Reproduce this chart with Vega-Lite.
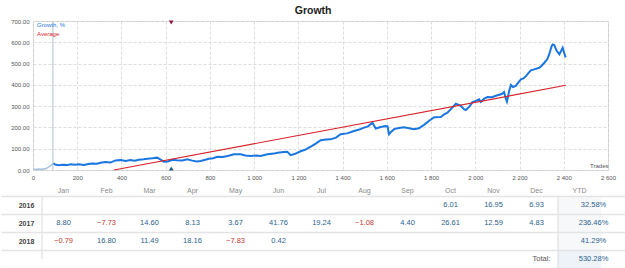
{
  "$schema": "https://vega.github.io/schema/vega-lite/v6.json",
  "background": "white",
  "padding": {"left": 0, "right": 0, "top": 6, "bottom": 0},
  "title": {"text": "Growth", "anchor": "middle", "fontSize": 10.5, "font": "Liberation Sans", "fontWeight": "bold", "color": "#222222", "offset": 1},
  "config": {
    "font": "Liberation Sans",
    "view": {"stroke": null},
    "locale": {"number": {"decimal": ".", "thousands": " ", "grouping": [3], "currency": ["", ""]}}
  },
  "spacing": 5,
  "datasets": {
    "pre": [{"t":0,"v":3},{"t":8,"v":4},{"t":16,"v":2},{"t":26,"v":5},{"t":36,"v":3},{"t":46,"v":6},{"t":56,"v":5},{"t":66,"v":11},{"t":76,"v":17},{"t":84,"v":24},{"t":91,"v":31}],
    "growth": [
      {"t":91,"v":31},{"t":100,"v":26},{"t":117,"v":22},{"t":135,"v":25},{"t":155,"v":23},{"t":170,"v":27},{"t":190,"v":25},{"t":207,"v":27},{"t":230,"v":24},{"t":250,"v":28},
      {"t":268,"v":31},{"t":290,"v":29},{"t":305,"v":34},{"t":328,"v":37},{"t":350,"v":35},{"t":373,"v":45},{"t":396,"v":47},{"t":419,"v":42},{"t":440,"v":47},{"t":460,"v":44},
      {"t":479,"v":48},{"t":500,"v":50},{"t":517,"v":53},{"t":540,"v":55},{"t":562,"v":58},{"t":575,"v":50},{"t":592,"v":39},{"t":610,"v":40},{"t":630,"v":48},{"t":650,"v":46},
      {"t":675,"v":45},{"t":698,"v":50},{"t":720,"v":44},{"t":740,"v":40},{"t":758,"v":42},{"t":775,"v":47},{"t":795,"v":53},{"t":815,"v":55},{"t":833,"v":62},{"t":856,"v":61},
      {"t":880,"v":66},{"t":909,"v":74},{"t":939,"v":74},{"t":960,"v":68},{"t":984,"v":66},{"t":1010,"v":68},{"t":1029,"v":66},{"t":1060,"v":74},{"t":1090,"v":77},{"t":1105,"v":81},
      {"t":1135,"v":85},{"t":1150,"v":86},{"t":1165,"v":70},{"t":1185,"v":76},{"t":1210,"v":88},{"t":1230,"v":95},{"t":1256,"v":110},{"t":1280,"v":125},{"t":1301,"v":140},{"t":1325,"v":143},
      {"t":1346,"v":144},{"t":1370,"v":152},{"t":1391,"v":168},{"t":1420,"v":172},{"t":1452,"v":183},{"t":1475,"v":190},{"t":1497,"v":199},{"t":1515,"v":205},{"t":1535,"v":222},{"t":1550,"v":195},
      {"t":1572,"v":202},{"t":1595,"v":207},{"t":1603,"v":205},{"t":1610,"v":168},{"t":1620,"v":180},{"t":1633,"v":192},{"t":1655,"v":197},{"t":1678,"v":201},{"t":1700,"v":196},{"t":1723,"v":191},
      {"t":1745,"v":196},{"t":1768,"v":212},{"t":1790,"v":230},{"t":1814,"v":248},{"t":1844,"v":249},{"t":1859,"v":262},{"t":1874,"v":269},{"t":1895,"v":292},{"t":1912,"v":311},{"t":1935,"v":301},
      {"t":1950,"v":285},{"t":1957,"v":282},{"t":1975,"v":300},{"t":1987,"v":319},{"t":2005,"v":326},{"t":2017,"v":332},{"t":2025,"v":320},{"t":2040,"v":335},{"t":2055,"v":343},{"t":2075,"v":342},
      {"t":2100,"v":351},{"t":2120,"v":357},{"t":2130,"v":366},{"t":2138,"v":335},{"t":2143,"v":321},{"t":2153,"v":371},{"t":2161,"v":400},{"t":2170,"v":390},{"t":2183,"v":395},{"t":2195,"v":412},
      {"t":2206,"v":426},{"t":2218,"v":430},{"t":2229,"v":441},{"t":2240,"v":455},{"t":2251,"v":468},{"t":2270,"v":474},{"t":2289,"v":480},{"t":2300,"v":490},{"t":2312,"v":504},{"t":2325,"v":520},
      {"t":2334,"v":543},{"t":2345,"v":582},{"t":2350,"v":590},{"t":2357,"v":587},{"t":2368,"v":560},{"t":2380,"v":543},{"t":2395,"v":574},{"t":2406,"v":535},{"t":2410,"v":530}
    ],
    "avg": [{"t":366,"v":0},{"t":2410,"v":398}],
    "marks": [{"t":625}],
    "start": [{"t":90}],
    "cells": [
      {"row":"2016","col":"Oct","value":6.01},{"row":"2016","col":"Nov","value":16.95},{"row":"2016","col":"Dec","value":6.93},
      {"row":"2017","col":"Jan","value":8.80},{"row":"2017","col":"Feb","value":-7.73},{"row":"2017","col":"Mar","value":14.60},{"row":"2017","col":"Apr","value":8.13},
      {"row":"2017","col":"May","value":3.67},{"row":"2017","col":"Jun","value":41.76},{"row":"2017","col":"Jul","value":19.24},{"row":"2017","col":"Aug","value":-1.08},
      {"row":"2017","col":"Sep","value":4.40},{"row":"2017","col":"Oct","value":26.61},{"row":"2017","col":"Nov","value":12.59},{"row":"2017","col":"Dec","value":4.83},
      {"row":"2018","col":"Jan","value":-0.79},{"row":"2018","col":"Feb","value":16.80},{"row":"2018","col":"Mar","value":11.49},{"row":"2018","col":"Apr","value":18.16},
      {"row":"2018","col":"May","value":-7.83},{"row":"2018","col":"Jun","value":0.42}
    ],
    "ytd": [{"row":"2016","col":"YTD","ytd":32.58},{"row":"2017","col":"YTD","ytd":236.46},{"row":"2018","col":"YTD","ytd":41.29},{"row":"Total","col":"YTD","ytd":530.28}]
  },
  "vconcat": [
    {
      "width": 575,
      "height": 149,
      "view": {"stroke": "#cccccc"},
      "layer": [
        {
          "data": {"name": "pre"},
          "mark": {"type": "line", "strokeWidth": 1.5, "color": "#a9c3de"},
          "encoding": {
            "x": {"field": "t", "type": "quantitative", "scale": {"domain": [0, 2600], "nice": false},
              "axis": {"values": [0,200,400,600,800,1000,1200,1400,1600,1800,2000,2200,2400,2600], "format": ",d", "labelFlush": false, "labelOverlap": false, "labelFontSize": 6, "labelColor": "#555555", "ticks": false, "domain": false, "labelPadding": 4, "gridColor": "#dddddd", "gridDash": [3, 2],
                "title": "Trades", "titleFontSize": 6, "titleFontWeight": "normal", "titleColor": "#555555", "titleAnchor": "end", "titleBaseline": "bottom", "titleY": -2}},
            "y": {"field": "v", "type": "quantitative", "scale": {"domain": [0, 700], "nice": false},
              "axis": {"values": [0,100,200,300,400,500,600,700], "format": ".2f", "labelOverlap": false, "labelFontSize": 6, "labelColor": "#555555", "ticks": false, "domain": false, "labelPadding": 4, "gridColor": "#dddddd", "gridDash": [3, 2], "title": null, "minExtent": 32, "maxExtent": 32}}
          }
        },
        {
          "data": {"name": "growth"},
          "mark": {"type": "line", "strokeWidth": 2},
          "encoding": {
            "x": {"field": "t", "type": "quantitative", "scale": {"domain": [0, 2600], "nice": false},
              "axis": {"values": [0,200,400,600,800,1000,1200,1400,1600,1800,2000,2200,2400,2600], "format": ",d", "labelFlush": false, "labelOverlap": false, "labelFontSize": 6, "labelColor": "#555555", "ticks": false, "domain": false, "labelPadding": 4, "gridColor": "#dddddd", "gridDash": [3, 2],
                "title": "Trades", "titleFontSize": 6, "titleFontWeight": "normal", "titleColor": "#555555", "titleAnchor": "end", "titleBaseline": "bottom", "titleY": -2}},
            "y": {"field": "v", "type": "quantitative", "scale": {"domain": [0, 700], "nice": false},
              "axis": {"values": [0,100,200,300,400,500,600,700], "format": ".2f", "labelOverlap": false, "labelFontSize": 6, "labelColor": "#555555", "ticks": false, "domain": false, "labelPadding": 4, "gridColor": "#dddddd", "gridDash": [3, 2], "title": null, "minExtent": 32, "maxExtent": 32}},
            "color": {"datum": "Growth, %", "type": "nominal", "scale": {"domain": ["Growth, %", "Average"], "range": ["#1a76e0", "#d8232a"]},
              "legend": {"orient": "top-left", "title": null, "offset": 1, "padding": 0, "symbolSize": 0, "symbolStrokeWidth": 0, "labelOffset": -3, "labelFontSize": 6, "rowPadding": 3, "labelFont": "Liberation Sans",
                "encode": {"labels": {"update": {"fill": {"signal": "scale('color', datum.value)"}}}}}}
          }
        },
        {
          "data": {"name": "avg"},
          "mark": {"type": "line", "strokeWidth": 1.2},
          "encoding": {
            "x": {"field": "t", "type": "quantitative", "scale": {"domain": [0, 2600], "nice": false},
              "axis": {"values": [0,200,400,600,800,1000,1200,1400,1600,1800,2000,2200,2400,2600], "format": ",d", "labelFlush": false, "labelOverlap": false, "labelFontSize": 6, "labelColor": "#555555", "ticks": false, "domain": false, "labelPadding": 4, "gridColor": "#dddddd", "gridDash": [3, 2],
                "title": "Trades", "titleFontSize": 6, "titleFontWeight": "normal", "titleColor": "#555555", "titleAnchor": "end", "titleBaseline": "bottom", "titleY": -2}},
            "y": {"field": "v", "type": "quantitative", "scale": {"domain": [0, 700], "nice": false},
              "axis": {"values": [0,100,200,300,400,500,600,700], "format": ".2f", "labelOverlap": false, "labelFontSize": 6, "labelColor": "#555555", "ticks": false, "domain": false, "labelPadding": 4, "gridColor": "#dddddd", "gridDash": [3, 2], "title": null, "minExtent": 32, "maxExtent": 32}},
            "color": {"datum": "Average", "type": "nominal"}
          }
        },
        {
          "data": {"name": "start"},
          "mark": {"type": "rule", "color": "#b4c0ce", "strokeWidth": 1},
          "encoding": {
            "x": {"field": "t", "type": "quantitative", "scale": {"domain": [0, 2600], "nice": false},
              "axis": {"values": [0,200,400,600,800,1000,1200,1400,1600,1800,2000,2200,2400,2600], "format": ",d", "labelFlush": false, "labelOverlap": false, "labelFontSize": 6, "labelColor": "#555555", "ticks": false, "domain": false, "labelPadding": 4, "gridColor": "#dddddd", "gridDash": [3, 2],
                "title": "Trades", "titleFontSize": 6, "titleFontWeight": "normal", "titleColor": "#555555", "titleAnchor": "end", "titleBaseline": "bottom", "titleY": -2}}
          }
        },
        {
          "data": {"name": "marks"},
          "mark": {"type": "point", "shape": "triangle-down", "filled": true, "size": 22, "color": "#8a1538", "yOffset": 1.5, "opacity": 1},
          "encoding": {
            "x": {"field": "t", "type": "quantitative", "scale": {"domain": [0, 2600], "nice": false},
              "axis": {"values": [0,200,400,600,800,1000,1200,1400,1600,1800,2000,2200,2400,2600], "format": ",d", "labelFlush": false, "labelOverlap": false, "labelFontSize": 6, "labelColor": "#555555", "ticks": false, "domain": false, "labelPadding": 4, "gridColor": "#dddddd", "gridDash": [3, 2],
                "title": "Trades", "titleFontSize": 6, "titleFontWeight": "normal", "titleColor": "#555555", "titleAnchor": "end", "titleBaseline": "bottom", "titleY": -2}},
            "y": {"datum": 700, "type": "quantitative", "scale": {"domain": [0, 700], "nice": false},
              "axis": {"values": [0,100,200,300,400,500,600,700], "format": ".2f", "labelOverlap": false, "labelFontSize": 6, "labelColor": "#555555", "ticks": false, "domain": false, "labelPadding": 4, "gridColor": "#dddddd", "gridDash": [3, 2], "title": null, "minExtent": 32, "maxExtent": 32}}
          }
        },
        {
          "data": {"name": "marks"},
          "mark": {"type": "point", "shape": "triangle-up", "filled": true, "size": 22, "color": "#1f5a7a", "yOffset": -1.5, "opacity": 1},
          "encoding": {
            "x": {"field": "t", "type": "quantitative", "scale": {"domain": [0, 2600], "nice": false},
              "axis": {"values": [0,200,400,600,800,1000,1200,1400,1600,1800,2000,2200,2400,2600], "format": ",d", "labelFlush": false, "labelOverlap": false, "labelFontSize": 6, "labelColor": "#555555", "ticks": false, "domain": false, "labelPadding": 4, "gridColor": "#dddddd", "gridDash": [3, 2],
                "title": "Trades", "titleFontSize": 6, "titleFontWeight": "normal", "titleColor": "#555555", "titleAnchor": "end", "titleBaseline": "bottom", "titleY": -2}},
            "y": {"datum": 0, "type": "quantitative", "scale": {"domain": [0, 700], "nice": false},
              "axis": {"values": [0,100,200,300,400,500,600,700], "format": ".2f", "labelOverlap": false, "labelFontSize": 6, "labelColor": "#555555", "ticks": false, "domain": false, "labelPadding": 4, "gridColor": "#dddddd", "gridDash": [3, 2], "title": null, "minExtent": 32, "maxExtent": 32}}
          }
        }
      ]
    },
    {
      "width": 593,
      "height": 72,
      "view": {"stroke": null},
      "encoding": {
        "x": {"field": "col", "type": "nominal",
          "scale": {"domain": ["Jan","Feb","Mar","Apr","May","Jun","Jul","Aug","Sep","Oct","Nov","Dec","YTD"], "paddingInner": 0, "paddingOuter": 0.395, "align": 0.265},
          "axis": {"orient": "top", "title": null, "ticks": false, "domain": false, "grid": false, "labelAngle": 0, "labelFontSize": 7, "labelColor": "#8a8a8a", "labelPadding": 3,
            "encode": {"labels": {"update": {"dx": {"signal": "datum.value === 'YTD' ? 14 : 0"}}}}}},
        "y": {"field": "row", "type": "nominal", "scale": {"domain": ["2016","2017","2018","Total"], "paddingInner": 0, "paddingOuter": 0},
          "axis": {"orient": "left", "title": null, "domain": false, "ticks": true, "tickBand": "extent", "tickSize": 32, "tickColor": "#e4e4e4", "tickWidth": 1.5,
            "grid": true, "gridColor": "#e4e4e4", "gridWidth": 1.5, "labelExpr": "datum.value === 'Total' ? '' : datum.value", "labelAlign": "center", "labelPadding": -25,
            "labelFontSize": 7, "labelFontWeight": "bold", "labelColor": "#444444", "minExtent": 32, "maxExtent": 32}}
      },
      "layer": [
        {
          "data": {"values": [{"col": "YTD"}]},
          "mark": {"type": "rect", "color": "#f6f8fa"},
          "encoding": {"y": null}
        },
        {
          "data": {"values": [{"col": "YTD", "row": "Total"}]},
          "mark": {"type": "rect", "color": "#edf3f9"}
        },
        {
          "data": {"values": [{"col": "YTD"}]},
          "mark": {"type": "rule", "color": "#dadada", "strokeWidth": 1},
          "encoding": {"x": {"field": "col", "type": "nominal", "bandPosition": 0}, "y": null}
        },
        {
          "data": {"values": [{"col": "Jan", "row": "2016", "row2": "Total"}]},
          "mark": {"type": "rule", "color": "#dadada", "strokeWidth": 1},
          "encoding": {"x": {"field": "col", "type": "nominal", "bandPosition": 0}, "y": {"field": "row", "type": "nominal", "bandPosition": 0}, "y2": {"field": "row2"}}
        },
        {
          "data": {"name": "cells"},
          "mark": {"type": "text", "fontSize": 7.5, "font": "Liberation Sans"},
          "encoding": {
            "text": {"field": "value", "type": "quantitative", "format": ".2f"},
            "color": {"condition": {"test": "datum.value < 0", "value": "#c0392b"}, "value": "#2b5f8e"}
          }
        },
        {
          "data": {"name": "ytd"},
          "transform": [{"calculate": "format(datum.ytd, '.2f') + '%'", "as": "label"}],
          "mark": {"type": "text", "fontSize": 7.5, "font": "Liberation Sans", "dx": 14, "color": "#2b5f8e"},
          "encoding": {"text": {"field": "label", "type": "nominal"}}
        },
        {
          "data": {"values": [{"col": "Dec", "row": "Total", "label": "Total:"}]},
          "mark": {"type": "text", "fontSize": 7.5, "font": "Liberation Sans", "dx": 5, "color": "#555555"},
          "encoding": {"text": {"field": "label", "type": "nominal"}}
        }
      ]
    }
  ]
}
